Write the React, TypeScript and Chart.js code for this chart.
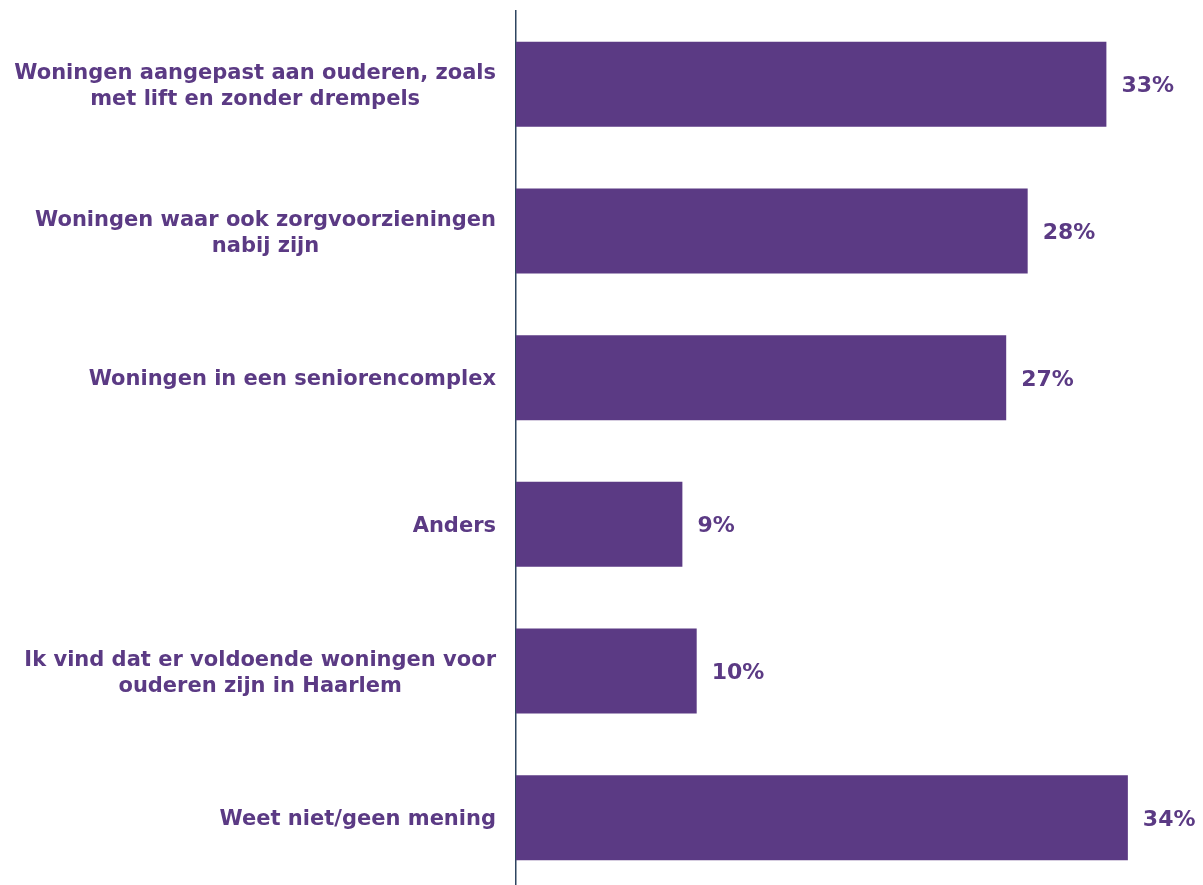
import React, { useEffect, useRef } from "react";
import { Chart, registerables } from "chart.js";

Chart.register(...registerables);

const categories: string[][] = [
  ["Woningen aangepast aan ouderen, zoals", "met lift en zonder drempels"],
  ["Woningen waar ook zorgvoorzieningen", "nabij zijn"],
  ["Woningen in een seniorencomplex"],
  ["Anders"],
  ["Ik vind dat er voldoende woningen voor", "ouderen zijn in Haarlem"],
  ["Weet niet/geen mening"],
];
const values: number[] = [33.0, 28.6, 27.4, 9.3, 10.1, 34.2];
const valueLabels: string[] = ["33%", "28%", "27%", "9%", "10%", "34%"];

const PURPLE = "#5B3A84";
const CAT_FONT = 'bold 21px "DejaVu Sans", Verdana, sans-serif';
const VAL_FONT = 'bold 22px "DejaVu Sans", Verdana, sans-serif';

const labelPlugin = {
  id: "customLabels",
  afterDraw(chart: any) {
    const ctx = chart.ctx;
    const yScale = chart.scales.y;
    const xScale = chart.scales.x;
    ctx.save();
    ctx.fillStyle = PURPLE;
    ctx.textBaseline = "alphabetic";
    const lineGap = 26;
    categories.forEach((lines, i) => {
      const y = yScale.getPixelForValue(i);
      ctx.font = CAT_FONT;
      let maxW = 0;
      lines.forEach((l) => {
        maxW = Math.max(maxW, ctx.measureText(l).width);
      });
      const cx = 496 - maxW / 2;
      ctx.textAlign = "center";
      const n = lines.length;
      lines.forEach((l, j) => {
        const by = y + 7.6 + (j - (n - 1) / 2) * lineGap;
        ctx.fillText(l, cx, by);
      });
      ctx.font = VAL_FONT;
      ctx.textAlign = "left";
      const vx = xScale.getPixelForValue(values[i]) + 15;
      ctx.fillText(valueLabels[i], vx, y + 8);
    });
    ctx.restore();
  },
};

export default function App() {
  const ref = useRef<HTMLCanvasElement>(null);
  useEffect(() => {
    if (!ref.current) return;
    const chart = new Chart(ref.current, {
      type: "bar",
      data: {
        labels: categories.map((c) => c.join(" ")),
        datasets: [
          {
            data: values,
            backgroundColor: PURPLE,
            borderWidth: 0,
            barPercentage: 0.58,
            categoryPercentage: 1,
          },
        ],
      },
      options: {
        indexAxis: "y",
        animation: false,
        responsive: false,
        maintainAspectRatio: false,
        layout: { padding: { left: 516, top: 11, right: 0, bottom: 0 } },
        plugins: {
          legend: { display: false },
          tooltip: { enabled: false },
        },
        scales: {
          x: { display: false, min: 0, max: 38.4 },
          y: {
            display: true,
            ticks: { display: false },
            grid: { display: false, drawTicks: false },
            border: { display: true, color: "#2E4560", width: 1.5 },
            afterFit: (s: any) => {
              s.width = 0;
            },
          },
        },
      },
      plugins: [labelPlugin],
    });
    return () => chart.destroy();
  }, []);
  return (
    <div
      style={{
        position: "absolute",
        left: 0,
        top: 0,
        width: 1203,
        height: 885,
        overflow: "hidden",
        background: "#fff",
      }}
    >
      <canvas ref={ref} width={1203} height={891} style={{ display: "block" }} />
    </div>
  );
}
